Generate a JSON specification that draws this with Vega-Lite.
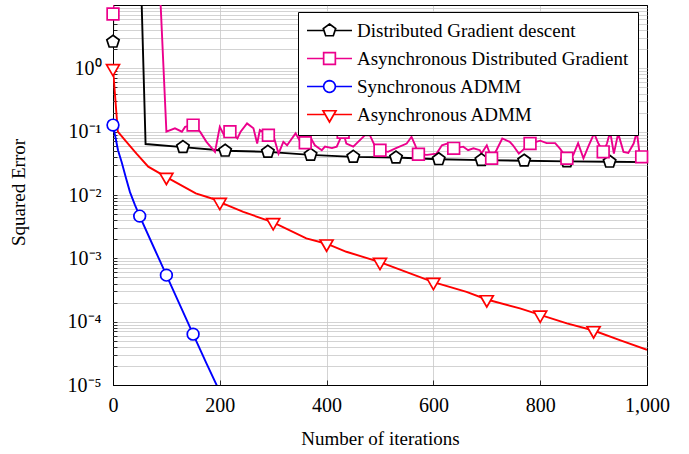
{
  "$schema": "https://vega.github.io/schema/vega-lite/v6.json",
  "autosize": {"type": "none"},
  "padding": {"left": 113, "top": 5, "right": 42, "bottom": 69},
  "width": 534,
  "height": 380,
  "background": "white",
  "config": {
    "view": {"stroke": "black", "strokeWidth": 1},
    "axis": {
      "domain": false,
      "gridColor": "#c8c8c8",
      "gridWidth": 0.8,
      "tickColor": "black",
      "tickWidth": 0.8,
      "labelFont": "Liberation Serif",
      "labelFontSize": 20,
      "labelColor": "black",
      "titleFont": "Liberation Serif",
      "titleFontSize": 19,
      "titleFontWeight": "normal",
      "titleColor": "black"
    },
    "legend": {"labelFont": "Liberation Serif"}
  },
  "datasets": {
    "curves": [
      {"s": "Distributed Gradient descent", "it": 0, "v": 2.63},
      {"s": "Distributed Gradient descent", "it": 1, "v": 34},
      {"s": "Distributed Gradient descent", "it": 52, "v": 34},
      {"s": "Distributed Gradient descent", "it": 61, "v": 0.0637},
      {"s": "Distributed Gradient descent", "it": 131, "v": 0.057},
      {"s": "Distributed Gradient descent", "it": 210, "v": 0.05},
      {"s": "Distributed Gradient descent", "it": 290, "v": 0.048},
      {"s": "Distributed Gradient descent", "it": 370, "v": 0.043},
      {"s": "Distributed Gradient descent", "it": 450, "v": 0.04},
      {"s": "Distributed Gradient descent", "it": 530, "v": 0.039},
      {"s": "Distributed Gradient descent", "it": 610, "v": 0.0367},
      {"s": "Distributed Gradient descent", "it": 690, "v": 0.0356},
      {"s": "Distributed Gradient descent", "it": 770, "v": 0.0348},
      {"s": "Distributed Gradient descent", "it": 850, "v": 0.034},
      {"s": "Distributed Gradient descent", "it": 930, "v": 0.0335},
      {"s": "Distributed Gradient descent", "it": 1000, "v": 0.033},

      {"s": "Asynchronous Distributed Gradient", "it": 0, "v": 7.2},
      {"s": "Asynchronous Distributed Gradient", "it": 1, "v": 17},
      {"s": "Asynchronous Distributed Gradient", "it": 88, "v": 17},
      {"s": "Asynchronous Distributed Gradient", "it": 100, "v": 0.1},
      {"s": "Asynchronous Distributed Gradient", "it": 116, "v": 0.113},
      {"s": "Asynchronous Distributed Gradient", "it": 129, "v": 0.1},
      {"s": "Asynchronous Distributed Gradient", "it": 135, "v": 0.119},
      {"s": "Asynchronous Distributed Gradient", "it": 150, "v": 0.127},
      {"s": "Asynchronous Distributed Gradient", "it": 163, "v": 0.1},
      {"s": "Asynchronous Distributed Gradient", "it": 175, "v": 0.069},
      {"s": "Asynchronous Distributed Gradient", "it": 191, "v": 0.048},
      {"s": "Asynchronous Distributed Gradient", "it": 200, "v": 0.119},
      {"s": "Asynchronous Distributed Gradient", "it": 208, "v": 0.088},
      {"s": "Asynchronous Distributed Gradient", "it": 219, "v": 0.1},
      {"s": "Asynchronous Distributed Gradient", "it": 233, "v": 0.078},
      {"s": "Asynchronous Distributed Gradient", "it": 239, "v": 0.1},
      {"s": "Asynchronous Distributed Gradient", "it": 251, "v": 0.135},
      {"s": "Asynchronous Distributed Gradient", "it": 263, "v": 0.113},
      {"s": "Asynchronous Distributed Gradient", "it": 270, "v": 0.065},
      {"s": "Asynchronous Distributed Gradient", "it": 275, "v": 0.106},
      {"s": "Asynchronous Distributed Gradient", "it": 291, "v": 0.088},
      {"s": "Asynchronous Distributed Gradient", "it": 301, "v": 0.083},
      {"s": "Asynchronous Distributed Gradient", "it": 310, "v": 0.045},
      {"s": "Asynchronous Distributed Gradient", "it": 319, "v": 0.069},
      {"s": "Asynchronous Distributed Gradient", "it": 326, "v": 0.061},
      {"s": "Asynchronous Distributed Gradient", "it": 335, "v": 0.078},
      {"s": "Asynchronous Distributed Gradient", "it": 342, "v": 0.094},
      {"s": "Asynchronous Distributed Gradient", "it": 349, "v": 0.074},
      {"s": "Asynchronous Distributed Gradient", "it": 360, "v": 0.067},
      {"s": "Asynchronous Distributed Gradient", "it": 369, "v": 0.083},
      {"s": "Asynchronous Distributed Gradient", "it": 378, "v": 0.061},
      {"s": "Asynchronous Distributed Gradient", "it": 391, "v": 0.051},
      {"s": "Asynchronous Distributed Gradient", "it": 397, "v": 0.058},
      {"s": "Asynchronous Distributed Gradient", "it": 410, "v": 0.055},
      {"s": "Asynchronous Distributed Gradient", "it": 419, "v": 0.058},
      {"s": "Asynchronous Distributed Gradient", "it": 431, "v": 0.098},
      {"s": "Asynchronous Distributed Gradient", "it": 437, "v": 0.065},
      {"s": "Asynchronous Distributed Gradient", "it": 450, "v": 0.058},
      {"s": "Asynchronous Distributed Gradient", "it": 459, "v": 0.069},
      {"s": "Asynchronous Distributed Gradient", "it": 472, "v": 0.088},
      {"s": "Asynchronous Distributed Gradient", "it": 481, "v": 0.088},
      {"s": "Asynchronous Distributed Gradient", "it": 491, "v": 0.058},
      {"s": "Asynchronous Distributed Gradient", "it": 500, "v": 0.051},
      {"s": "Asynchronous Distributed Gradient", "it": 515, "v": 0.048},
      {"s": "Asynchronous Distributed Gradient", "it": 530, "v": 0.055},
      {"s": "Asynchronous Distributed Gradient", "it": 550, "v": 0.065},
      {"s": "Asynchronous Distributed Gradient", "it": 559, "v": 0.083},
      {"s": "Asynchronous Distributed Gradient", "it": 566, "v": 0.061},
      {"s": "Asynchronous Distributed Gradient", "it": 572, "v": 0.044},
      {"s": "Asynchronous Distributed Gradient", "it": 588, "v": 0.043},
      {"s": "Asynchronous Distributed Gradient", "it": 606, "v": 0.045},
      {"s": "Asynchronous Distributed Gradient", "it": 616, "v": 0.061},
      {"s": "Asynchronous Distributed Gradient", "it": 626, "v": 0.065},
      {"s": "Asynchronous Distributed Gradient", "it": 638, "v": 0.0545},
      {"s": "Asynchronous Distributed Gradient", "it": 656, "v": 0.058},
      {"s": "Asynchronous Distributed Gradient", "it": 665, "v": 0.051},
      {"s": "Asynchronous Distributed Gradient", "it": 675, "v": 0.0545},
      {"s": "Asynchronous Distributed Gradient", "it": 687, "v": 0.051},
      {"s": "Asynchronous Distributed Gradient", "it": 690, "v": 0.045},
      {"s": "Asynchronous Distributed Gradient", "it": 700, "v": 0.061},
      {"s": "Asynchronous Distributed Gradient", "it": 709, "v": 0.038},
      {"s": "Asynchronous Distributed Gradient", "it": 718, "v": 0.051},
      {"s": "Asynchronous Distributed Gradient", "it": 729, "v": 0.078},
      {"s": "Asynchronous Distributed Gradient", "it": 743, "v": 0.069},
      {"s": "Asynchronous Distributed Gradient", "it": 749, "v": 0.061},
      {"s": "Asynchronous Distributed Gradient", "it": 760, "v": 0.045},
      {"s": "Asynchronous Distributed Gradient", "it": 781, "v": 0.065},
      {"s": "Asynchronous Distributed Gradient", "it": 800, "v": 0.072},
      {"s": "Asynchronous Distributed Gradient", "it": 812, "v": 0.066},
      {"s": "Asynchronous Distributed Gradient", "it": 828, "v": 0.066},
      {"s": "Asynchronous Distributed Gradient", "it": 837, "v": 0.054},
      {"s": "Asynchronous Distributed Gradient", "it": 850, "v": 0.038},
      {"s": "Asynchronous Distributed Gradient", "it": 862, "v": 0.043},
      {"s": "Asynchronous Distributed Gradient", "it": 871, "v": 0.066},
      {"s": "Asynchronous Distributed Gradient", "it": 881, "v": 0.038},
      {"s": "Asynchronous Distributed Gradient", "it": 890, "v": 0.058},
      {"s": "Asynchronous Distributed Gradient", "it": 901, "v": 0.094},
      {"s": "Asynchronous Distributed Gradient", "it": 909, "v": 0.065},
      {"s": "Asynchronous Distributed Gradient", "it": 918, "v": 0.048},
      {"s": "Asynchronous Distributed Gradient", "it": 925, "v": 0.065},
      {"s": "Asynchronous Distributed Gradient", "it": 931, "v": 0.1},
      {"s": "Asynchronous Distributed Gradient", "it": 938, "v": 0.045},
      {"s": "Asynchronous Distributed Gradient", "it": 946, "v": 0.094},
      {"s": "Asynchronous Distributed Gradient", "it": 956, "v": 0.048},
      {"s": "Asynchronous Distributed Gradient", "it": 965, "v": 0.046},
      {"s": "Asynchronous Distributed Gradient", "it": 975, "v": 0.065},
      {"s": "Asynchronous Distributed Gradient", "it": 981, "v": 0.1},
      {"s": "Asynchronous Distributed Gradient", "it": 986, "v": 0.045},
      {"s": "Asynchronous Distributed Gradient", "it": 990, "v": 0.04},
      {"s": "Asynchronous Distributed Gradient", "it": 1000, "v": 0.04},

      {"s": "Synchronous ADMM", "it": 0, "v": 0.127},
      {"s": "Synchronous ADMM", "it": 5.6, "v": 0.0737},
      {"s": "Synchronous ADMM", "it": 9.4, "v": 0.051},
      {"s": "Synchronous ADMM", "it": 16.3, "v": 0.033},
      {"s": "Synchronous ADMM", "it": 24.3, "v": 0.0185},
      {"s": "Synchronous ADMM", "it": 31.8, "v": 0.0111},
      {"s": "Synchronous ADMM", "it": 41.2, "v": 0.0069},
      {"s": "Synchronous ADMM", "it": 50, "v": 0.00464},
      {"s": "Synchronous ADMM", "it": 75, "v": 0.00158},
      {"s": "Synchronous ADMM", "it": 100, "v": 0.000543},
      {"s": "Synchronous ADMM", "it": 125, "v": 0.000186},
      {"s": "Synchronous ADMM", "it": 150, "v": 0.0000635},
      {"s": "Synchronous ADMM", "it": 175, "v": 0.000022},
      {"s": "Synchronous ADMM", "it": 200, "v": 0.0000078},
      {"s": "Synchronous ADMM", "it": 220, "v": 0.0000035},

      {"s": "Asynchronous ADMM", "it": 0, "v": 1.0},
      {"s": "Asynchronous ADMM", "it": 9, "v": 0.1},
      {"s": "Asynchronous ADMM", "it": 22, "v": 0.074},
      {"s": "Asynchronous ADMM", "it": 44, "v": 0.045},
      {"s": "Asynchronous ADMM", "it": 66, "v": 0.028},
      {"s": "Asynchronous ADMM", "it": 100, "v": 0.0192},
      {"s": "Asynchronous ADMM", "it": 155, "v": 0.0106},
      {"s": "Asynchronous ADMM", "it": 191, "v": 0.0085},
      {"s": "Asynchronous ADMM", "it": 200, "v": 0.0077},
      {"s": "Asynchronous ADMM", "it": 244, "v": 0.0054},
      {"s": "Asynchronous ADMM", "it": 300, "v": 0.0037},
      {"s": "Asynchronous ADMM", "it": 362, "v": 0.00206},
      {"s": "Asynchronous ADMM", "it": 400, "v": 0.0017},
      {"s": "Asynchronous ADMM", "it": 437, "v": 0.00127},
      {"s": "Asynchronous ADMM", "it": 500, "v": 0.00087},
      {"s": "Asynchronous ADMM", "it": 600, "v": 0.00042},
      {"s": "Asynchronous ADMM", "it": 662, "v": 0.000295},
      {"s": "Asynchronous ADMM", "it": 700, "v": 0.000224},
      {"s": "Asynchronous ADMM", "it": 762, "v": 0.000162},
      {"s": "Asynchronous ADMM", "it": 800, "v": 0.000128},
      {"s": "Asynchronous ADMM", "it": 850, "v": 0.000094},
      {"s": "Asynchronous ADMM", "it": 900, "v": 0.0000725},
      {"s": "Asynchronous ADMM", "it": 949, "v": 0.000051},
      {"s": "Asynchronous ADMM", "it": 1000, "v": 0.000036}
    ],
    "markers": [
      {"s": "Distributed Gradient descent", "it": 0, "v": 2.63},
      {"s": "Distributed Gradient descent", "it": 131, "v": 0.057},
      {"s": "Distributed Gradient descent", "it": 210, "v": 0.05},
      {"s": "Distributed Gradient descent", "it": 290, "v": 0.048},
      {"s": "Distributed Gradient descent", "it": 370, "v": 0.043},
      {"s": "Distributed Gradient descent", "it": 450, "v": 0.04},
      {"s": "Distributed Gradient descent", "it": 530, "v": 0.039},
      {"s": "Distributed Gradient descent", "it": 610, "v": 0.0367},
      {"s": "Distributed Gradient descent", "it": 690, "v": 0.0356},
      {"s": "Distributed Gradient descent", "it": 770, "v": 0.0348},
      {"s": "Distributed Gradient descent", "it": 850, "v": 0.034},
      {"s": "Distributed Gradient descent", "it": 930, "v": 0.0335},

      {"s": "Asynchronous Distributed Gradient", "it": 0, "v": 7.2},
      {"s": "Asynchronous Distributed Gradient", "it": 150, "v": 0.127},
      {"s": "Asynchronous Distributed Gradient", "it": 219, "v": 0.1},
      {"s": "Asynchronous Distributed Gradient", "it": 291, "v": 0.088},
      {"s": "Asynchronous Distributed Gradient", "it": 360, "v": 0.067},
      {"s": "Asynchronous Distributed Gradient", "it": 431, "v": 0.098},
      {"s": "Asynchronous Distributed Gradient", "it": 500, "v": 0.051},
      {"s": "Asynchronous Distributed Gradient", "it": 572, "v": 0.044},
      {"s": "Asynchronous Distributed Gradient", "it": 638, "v": 0.0545},
      {"s": "Asynchronous Distributed Gradient", "it": 709, "v": 0.038},
      {"s": "Asynchronous Distributed Gradient", "it": 781, "v": 0.065},
      {"s": "Asynchronous Distributed Gradient", "it": 850, "v": 0.038},
      {"s": "Asynchronous Distributed Gradient", "it": 918, "v": 0.048},
      {"s": "Asynchronous Distributed Gradient", "it": 990, "v": 0.04},

      {"s": "Synchronous ADMM", "it": 0, "v": 0.127},
      {"s": "Synchronous ADMM", "it": 50, "v": 0.00464},
      {"s": "Synchronous ADMM", "it": 100, "v": 0.000543},
      {"s": "Synchronous ADMM", "it": 150, "v": 0.0000635},

      {"s": "Asynchronous ADMM", "it": 0, "v": 1.0},
      {"s": "Asynchronous ADMM", "it": 100, "v": 0.0192},
      {"s": "Asynchronous ADMM", "it": 200, "v": 0.0077},
      {"s": "Asynchronous ADMM", "it": 300, "v": 0.0037},
      {"s": "Asynchronous ADMM", "it": 400, "v": 0.0017},
      {"s": "Asynchronous ADMM", "it": 500, "v": 0.00087},
      {"s": "Asynchronous ADMM", "it": 600, "v": 0.00042},
      {"s": "Asynchronous ADMM", "it": 700, "v": 0.000224},
      {"s": "Asynchronous ADMM", "it": 800, "v": 0.000128},
      {"s": "Asynchronous ADMM", "it": 900, "v": 0.0000725}
    ]
  },
  "encoding": {
    "x": {
      "field": "it",
      "type": "quantitative",
      "scale": {"domain": [0, 1000], "nice": false, "zero": false},
      "axis": {
        "title": "Number of iterations",
        "values": [0, 200, 400, 600, 800, 1000],
        "format": ",d",
        "labelFont": "Liberation Serif",
        "labelFontSize": 20,
        "ticks": true,
        "tickSize": -5,
        "labelPadding": 15,
        "labelFlush": false,
        "labelOverlap": false,
        "titleFont": "Liberation Serif",
        "titleY": 53,
        "titleBaseline": "middle",
        "gridColor": {"condition": {"test": "datum.value >= 999 || datum.value <= 1", "value": "black"}, "value": "#c8c8c8"}
      }
    },
    "y": {
      "field": "v",
      "type": "quantitative",
      "scale": {"type": "log", "domain": [0.00001, 10], "nice": false},
      "axis": {
        "title": "Squared Error",
        "values": [0.00001, 0.00002, 0.00003, 0.00004, 0.00005, 0.00006, 0.00007, 0.00008, 0.00009,
                   0.0001, 0.0002, 0.0003, 0.0004, 0.0005, 0.0006, 0.0007, 0.0008, 0.0009,
                   0.001, 0.002, 0.003, 0.004, 0.005, 0.006, 0.007, 0.008, 0.009,
                   0.01, 0.02, 0.03, 0.04, 0.05, 0.06, 0.07, 0.08, 0.09,
                   0.1, 0.2, 0.3, 0.4, 0.5, 0.6, 0.7, 0.8, 0.9,
                   1, 2, 3, 4, 5, 6, 7, 8, 9, 10],
        "labelExpr": "(abs(log(datum.value)/LN10 - round(log(datum.value)/LN10)) < 0.001 && datum.value < 5) ? '10' + ['⁻⁵','⁻⁴','⁻³','⁻²','⁻¹','⁰'][round(log(datum.value)/LN10) + 5] : ''",
        "labelFont": "Liberation Serif",
        "labelFontSize": 20,
        "ticks": true,
        "tickSize": -4,
        "labelOverlap": false,
        "labelBound": false,
        "labelFlush": false,
        "labelPadding": 16,
        "titleFont": "Liberation Serif",
        "titleX": -95,
        "titleY": 187,
        "titleAngle": -90,
        "titleAlign": "center",
        "titleBaseline": "middle",
        "gridColor": {"condition": {"test": "datum.value <= 0.0000101 || datum.value >= 9.9", "value": "black"}, "value": "#c8c8c8"}
      }
    }
  },
  "layer": [
    {
      "data": {"name": "curves"},
      "mark": {"type": "line", "strokeWidth": 1.9, "clip": true},
      "encoding": {
        "color": {
          "field": "s",
          "type": "nominal",
          "scale": {
            "domain": ["Distributed Gradient descent", "Asynchronous Distributed Gradient", "Synchronous ADMM", "Asynchronous ADMM"],
            "range": ["#000000", "#EC008C", "#0000FF", "#FF0000"]
          }
        },
        "detail": {"field": "s"}
      }
    },
    {
      "data": {"name": "markers"},
      "mark": {"type": "point", "filled": false, "fill": "white", "strokeWidth": 1.7, "size": 169, "opacity": 0},
      "encoding": {
        "color": {"field": "s", "type": "nominal"},
        "shape": {
          "field": "s",
          "type": "nominal",
          "scale": {
            "domain": ["Distributed Gradient descent", "Asynchronous Distributed Gradient", "Synchronous ADMM", "Asynchronous ADMM"],
            "range": [
              "M-3.46,0L-0.87,0M0.87,0L3.46,0M0,-1L0.951,-0.309L0.588,0.809L-0.588,0.809L-0.951,-0.309Z",
              "M-3.46,0L-0.9,0M0.9,0L3.46,0M-0.9,-0.9L0.9,-0.9L0.9,0.9L-0.9,0.9Z",
              "M-3.46,0L-0.9,0M0.9,0L3.46,0M0.9,0L0.869,0.233L0.779,0.45L0.636,0.636L0.45,0.779L0.233,0.869L0,0.9L-0.233,0.869L-0.45,0.779L-0.636,0.636L-0.779,0.45L-0.869,0.233L-0.9,0L-0.869,-0.233L-0.779,-0.45L-0.636,-0.636L-0.45,-0.779L-0.233,-0.869L0,-0.9L0.233,-0.869L0.45,-0.779L0.636,-0.636L0.779,-0.45L0.869,-0.233Z",
              "M-3.46,0L-0.66,0M0.66,0L3.46,0M0,1.15L-0.996,-0.575L0.996,-0.575Z"
            ]
          },
          "legend": {
            "title": null,
            "orient": "none",
            "legendX": 185,
            "legendY": 7,
            "fillColor": "white",
            "strokeColor": "black",
            "padding": 9,
            "rowPadding": 8,
            "labelFont": "Liberation Serif",
            "labelFontSize": 19,
            "labelColor": "black",
            "labelLimit": 500,
            "labelExpr": "datum.label + '\u00a0'",
            "symbolSize": 169,
            "symbolStrokeWidth": 1.7,
            "symbolOpacity": 1,
            "symbolFillColor": "white",
            "symbolOffset": 13,
            "labelOffset": 18,
            "encode": {
              "symbols": {
                "update": {
                  "fill": {"value": "white"},
                  "fillOpacity": {"value": 1},
                  "opacity": {"value": 1},
                  "strokeOpacity": {"value": 1},
                  "strokeWidth": {"value": 1.7}
                }
              }
            }
          }
        }
      }
    },
    {
      "data": {"name": "markers"},
      "transform": [{"filter": {"field": "s", "equal": "Distributed Gradient descent"}}],
      "mark": {"type": "point", "shape": "M0,-1L0.951,-0.309L0.588,0.809L-0.588,0.809L-0.951,-0.309Z", "filled": false, "fill": "white", "stroke": "#000000", "strokeWidth": 1.7, "size": 169, "opacity": 1}
    },
    {
      "data": {"name": "markers"},
      "transform": [{"filter": {"field": "s", "equal": "Asynchronous Distributed Gradient"}}],
      "mark": {"type": "point", "shape": "M-0.9,-0.9L0.9,-0.9L0.9,0.9L-0.9,0.9Z", "filled": false, "fill": "white", "stroke": "#EC008C", "strokeWidth": 1.7, "size": 169, "opacity": 1}
    },
    {
      "data": {"name": "markers"},
      "transform": [{"filter": {"field": "s", "equal": "Synchronous ADMM"}}],
      "mark": {"type": "point", "shape": "circle", "filled": false, "fill": "white", "stroke": "#0000FF", "strokeWidth": 1.7, "size": 137, "opacity": 1}
    },
    {
      "data": {"name": "markers"},
      "transform": [{"filter": {"field": "s", "equal": "Asynchronous ADMM"}}],
      "mark": {"type": "point", "shape": "M0,1.15L-0.996,-0.575L0.996,-0.575Z", "filled": false, "fill": "white", "stroke": "#FF0000", "strokeWidth": 1.7, "size": 169, "opacity": 1}
    }
  ]
}
